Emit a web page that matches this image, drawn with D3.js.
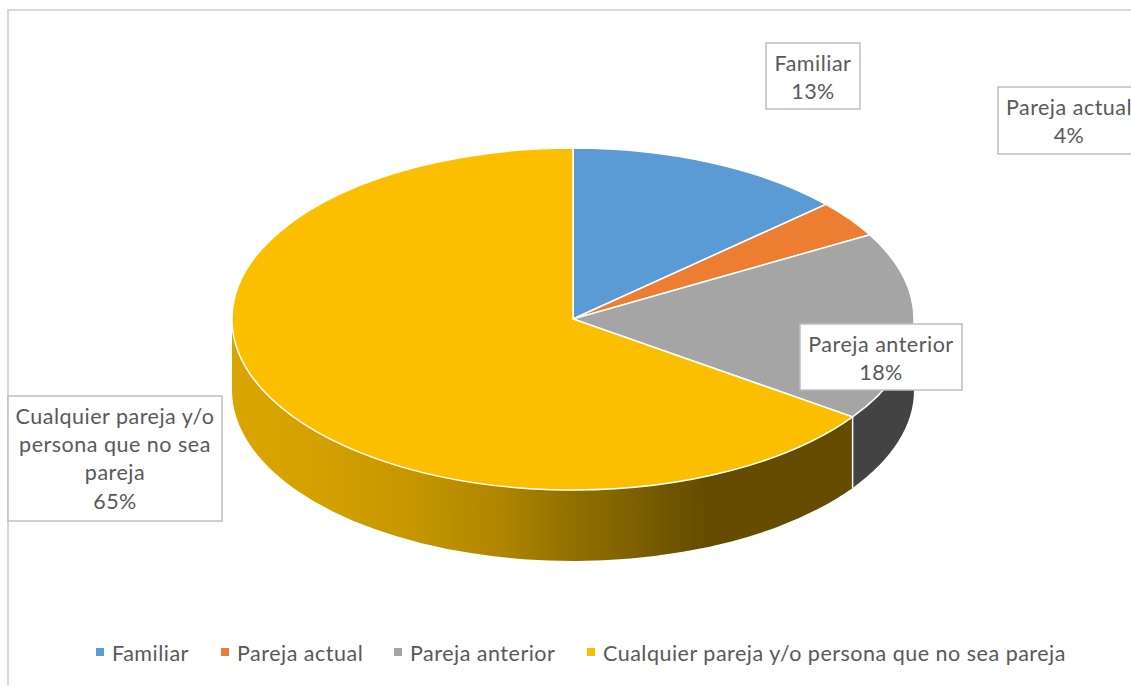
<!DOCTYPE html>
<html><head><meta charset="utf-8">
<script src="https://cdn.jsdelivr.net/npm/d3@7"></script>
<style>html,body{margin:0;padding:0;background:#fff;overflow:hidden}</style>
</head><body><div id="c"></div>
<script>
const categories = ["Familiar","Pareja actual","Pareja anterior","Cualquier pareja y/o persona que no sea pareja"];
const values = [13.3,3.5,17.9,65.3];
const colors = ["#5B9BD5","#ED7D31","#A5A5A5","#FCBF00"];
const wallColors = ["#2f5d8a","#8f4a1c","#434343","url(#wall)"];
const labelLines = [["Familiar"],["Pareja actual"],["Pareja anterior"],["Cualquier pareja y/o","persona que no sea","pareja"]];

const W=1131,H=686,FONT="Lato, 'Open Sans', sans-serif",TXT="#595959";
const cx=573,cy=319,rx=341,ry=171,depth=71;
const svg=d3.select("#c").append("svg").attr("width",W).attr("height",H).style("display","block");
const defs=svg.append("defs");
const g=defs.append("linearGradient").attr("id","wall").attr("gradientUnits","userSpaceOnUse")
  .attr("x1",cx-rx).attr("x2",cx+rx).attr("y1",0).attr("y2",0);
[[0,"#d9a500"],[0.12,"#d4a100"],[0.26,"#c69700"],[0.39,"#b08600"],[0.5,"#917000"],[0.6,"#7b5e00"],[0.69,"#654c00"],[1,"#654c00"]]
  .forEach(s=>g.append("stop").attr("offset",s[0]).attr("stop-color",s[1]));

svg.append("rect").attr("x",8).attr("y",10).attr("width",W+20).attr("height",H+20)
  .attr("fill","#fff").attr("stroke","#d9d9d9").attr("stroke-width",2);

const arcs=d3.pie().sort(null)(values);
const sx=a=>cx+rx*Math.sin(a), sy=a=>cy-ry*Math.cos(a);
// side walls (only the front half of the ellipse is visible)
const lo=Math.PI/2, hi=3*Math.PI/2;
const wall=svg.append("g");
arcs.forEach((d,i)=>{
  const a0=Math.max(d.startAngle,lo),a1=Math.min(d.endAngle,hi);
  if(a1<=a0) return;
  const p=`M${sx(a0)},${sy(a0)}A${rx},${ry} 0 0 1 ${sx(a1)},${sy(a1)}L${sx(a1)},${sy(a1)+depth}A${rx},${ry} 0 0 0 ${sx(a0)},${sy(a0)+depth}Z`;
  wall.append("path").attr("d",p).attr("fill",wallColors[i]);
  if(d.startAngle>lo) wall.append("line").attr("x1",sx(a0)).attr("y1",sy(a0)).attr("x2",sx(a0)).attr("y2",sy(a0)+depth)
     .attr("stroke","#fff").attr("stroke-width",1.5);
});
// top face
const arc=d3.arc().innerRadius(0).outerRadius(rx);
svg.append("g").attr("transform",`translate(${cx},${cy}) scale(1,${ry/rx})`)
  .selectAll("path").data(arcs).join("path")
  .attr("d",arc).attr("fill",(d,i)=>colors[i])
  .attr("stroke","#fff").attr("stroke-width",1.5).attr("vector-effect","non-scaling-stroke");

// data labels
const labelBoxes=[
 {x:766,y:43,w:94,h:66},
 {x:998,y:87,w:160,h:67,tx:1069},
 {x:800,y:324,w:162,h:66},
 {x:8,y:396,w:214,h:125}];
const fs=21.5, ls=0.5, lh=28.4;
labelBoxes.forEach((b,i)=>{
  svg.append("rect").attr("x",b.x).attr("y",b.y).attr("width",b.w).attr("height",b.h)
    .attr("fill","#fff").attr("stroke","#bfbfbf").attr("stroke-width",1.5);
  const lines=[...labelLines[i],d3.format(".0%")(values[i]/d3.sum(values))];
  const tx=b.tx||b.x+b.w/2;
  lines.forEach((t,j)=>svg.append("text").attr("x",tx).attr("y",b.y+27.5+j*lh)
    .attr("text-anchor","middle").attr("font-family",FONT).attr("font-size",fs).attr("letter-spacing",ls).attr("fill",TXT).text(t));
});
// legend
const legendX=[96,221,394,587];
categories.forEach((c,i)=>{
  svg.append("rect").attr("x",legendX[i]).attr("y",648).attr("width",8).attr("height",8).attr("fill",colors[i]);
  svg.append("text").attr("x",legendX[i]+16).attr("y",660.5).attr("font-family",FONT).attr("font-size",fs).attr("letter-spacing",ls)
    .attr("fill",TXT).text(c);
});
</script></body></html>
